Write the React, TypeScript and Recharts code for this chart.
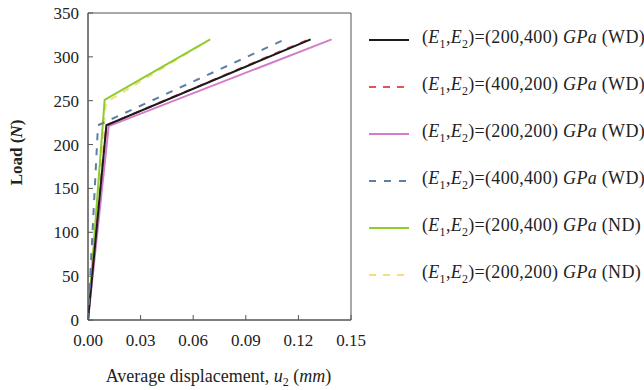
import { LineChart, Line, XAxis, YAxis, ReferenceArea } from 'recharts'

const xTicks = [0, 0.03, 0.06, 0.09, 0.12, 0.15]
const yTicks = [0, 50, 100, 150, 200, 250, 300, 350]

// load-displacement curves, [u2 (mm), load (N)]
const wd200400 = [
  { x: 0, y: 0 },
  { x: 0.0105, y: 222 },
  { x: 0.127, y: 320 },
]
const wd400200 = [
  { x: 0, y: 0 },
  { x: 0.0105, y: 222 },
  { x: 0.126, y: 320 },
]
const wd200200 = [
  { x: 0, y: 0 },
  { x: 0.0118, y: 221 },
  { x: 0.139, y: 320 },
]
const wd400400 = [
  { x: 0, y: 0 },
  { x: 0.0057, y: 222 },
  { x: 0.1135, y: 321 },
]
const nd200400 = [
  { x: 0, y: 0 },
  { x: 0.0095, y: 251 },
  { x: 0.0697, y: 320 },
]
const nd200200 = [
  { x: 0, y: 0 },
  { x: 0.0102, y: 248 },
  { x: 0.068, y: 318 },
]

const series = [
  { key: 'a', data: wd200400, color: '#1b1b1b', dash: undefined, pair: '(200,400)', tag: '(WD)' },
  { key: 'b', data: wd400200, color: '#e2545c', dash: '7 7', pair: '(400,200)', tag: '(WD)' },
  { key: 'c', data: wd200200, color: '#d47ccb', dash: undefined, pair: '(200,200)', tag: '(WD)' },
  { key: 'd', data: wd400400, color: '#5f7ea6', dash: '7 8', pair: '(400,400)', tag: '(WD)' },
  { key: 'e', data: nd200400, color: '#8fcc2c', dash: undefined, pair: '(200,400)', tag: '(ND)' },
  { key: 'f', data: nd200200, color: '#f3df7c', dash: '7 7', pair: '(200,200)', tag: '(ND)' },
]

const drawOrder = ['f', 'e', 'b', 'c', 'a', 'd']

const font = '"Liberation Serif", "DejaVu Serif", serif'
const axisColor = '#555'
const ink = '#222'

function XLabel({ viewBox }: any) {
  const cx = viewBox.x + viewBox.width / 2 - 1
  return (
    <text x={cx} y={viewBox.y + 62} textAnchor="middle" fill={ink} fontSize={18} fontFamily={font}>
      Average  displacement,  <tspan fontStyle="italic">u</tspan>
      <tspan fontSize={12} dy={4}>2</tspan>
      <tspan dy={-4}> (</tspan>
      <tspan fontStyle="italic">mm</tspan>)
    </text>
  )
}

function YLabel({ viewBox }: any) {
  const x = 22
  const y = viewBox.y + viewBox.height / 2 - 14
  return (
    <text x={x} y={y} transform={`rotate(-90 ${x} ${y})`} textAnchor="middle" fill={ink} fontSize={17} fontWeight="bold" fontFamily={font}>
      Load (<tspan fontStyle="italic">N</tspan>)
    </text>
  )
}

function LegendBox() {
  return (
    <div style={{ position: 'absolute', left: 367, top: 16, fontFamily: font, fontSize: 18, letterSpacing: 0.3, color: ink }}>
      {series.map((s) => (
        <div key={s.key} style={{ display: 'flex', alignItems: 'center', height: 47, whiteSpace: 'nowrap' }}>
          <svg width={44} height={10} style={{ marginRight: 11 }}>
            <line x1={2} y1={5} x2={42} y2={5} stroke={s.color} strokeWidth={2} strokeDasharray={s.dash} />
          </svg>
          <span>
            (<i>E</i>
            <sub style={{ fontSize: 12 }}>1</sub>,<i>E</i>
            <sub style={{ fontSize: 12 }}>2</sub>)={s.pair} <i>GPa</i> {s.tag}
          </span>
        </div>
      ))}
    </div>
  )
}

export default function App() {
  const ordered = drawOrder.map((k) => series.find((s) => s.key === k)!)
  return (
    <div style={{ position: 'absolute', left: 0, top: 0, width: 644, height: 390, background: '#fff' }}>
      <LineChart width={644} height={390} data={[]} margin={{ top: 13, right: 293, bottom: 0, left: 0 }}>
        <XAxis
          type="number"
          dataKey="x"
          domain={[0, 0.15]}
          ticks={xTicks}
          tickFormatter={(v: number) => v.toFixed(2)}
          height={70}
          stroke={axisColor}
          tickSize={-5}
          tickMargin={19}
          tick={{ fill: ink, fontSize: 17, fontFamily: font }}
          label={<XLabel />}
          allowDataOverflow
        />
        <YAxis
          type="number"
          dataKey="y"
          domain={[0, 350]}
          ticks={yTicks}
          width={88}
          stroke={axisColor}
          tickSize={-5}
          tickMargin={14}
          tick={{ fill: ink, fontSize: 17, fontFamily: font }}
          label={<YLabel />}
          allowDataOverflow
        />
        <ReferenceArea x1={0} x2={0.15} y1={0} y2={350} fill="none" stroke={axisColor} strokeWidth={1} />
        {ordered.map((s) => (
          <Line
            key={s.key}
            data={s.data}
            dataKey="y"
            type="linear"
            stroke={s.color}
            strokeWidth={2}
            strokeDasharray={s.dash}
            dot={false}
            isAnimationActive={false}
          />
        ))}
      </LineChart>
      <LegendBox />
    </div>
  )
}
